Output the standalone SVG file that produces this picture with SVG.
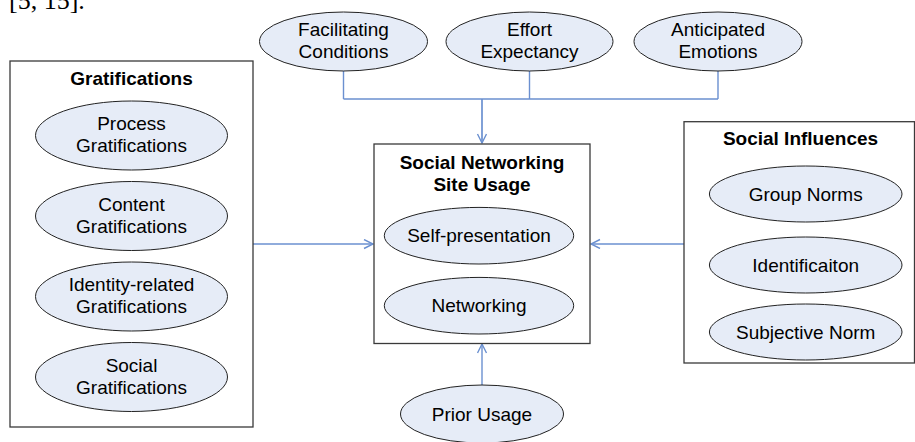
<svg xmlns="http://www.w3.org/2000/svg" width="915" height="442" viewBox="0 0 915 442">
<defs>
<style>
.box{fill:#ffffff;stroke:#3a3a3a;stroke-width:1.3}
.el{fill:#e6ecf7;stroke:#222222;stroke-width:1}
.t{font-family:"Liberation Sans",Arial,sans-serif;font-size:19px;fill:#000;text-anchor:middle}
.b{font-weight:bold}
.c{fill:none;stroke:#6b90d0;stroke-width:1.4}
</style>
<marker id="arr" markerWidth="12" markerHeight="12" refX="10" refY="5" orient="auto" markerUnits="userSpaceOnUse">
<path d="M1,0.5 L10,5 L1,9.5" fill="none" stroke="#6b90d0" stroke-width="1.4"/>
</marker>
</defs>
<rect width="915" height="442" fill="#ffffff"/>
<text x="9" y="9" style="font-family:'Liberation Serif','Times New Roman',serif;font-size:26px;fill:#000">[5, 15].</text>

<g id="connectors">
<path class="c" d="M343.5,71 V99 M529.5,71 V99 M718,71 V99 M343.5,99 H718"/>
<path class="c" d="M482,99 V143" marker-end="url(#arr)" style="stroke-width:1.7"/>
<path class="c" d="M253,244 H373" marker-end="url(#arr)"/>
<path class="c" d="M684,244 H591" marker-end="url(#arr)"/>
<path class="c" d="M482,385 V344" marker-end="url(#arr)"/>
</g>

<g id="facilitating">
<ellipse class="el" cx="343.5" cy="41.5" rx="84" ry="29.5"/>
<text class="t" x="343.5" y="36">Facilitating</text>
<text class="t" x="343.5" y="58">Conditions</text>
</g>
<g id="effort">
<ellipse class="el" cx="529.5" cy="41.5" rx="83.5" ry="29.5"/>
<text class="t" x="529.5" y="36">Effort</text>
<text class="t" x="529.5" y="58">Expectancy</text>
</g>
<g id="anticipated">
<ellipse class="el" cx="718" cy="41.5" rx="84" ry="29.5"/>
<text class="t" x="718" y="36">Anticipated</text>
<text class="t" x="718" y="58">Emotions</text>
</g>

<g id="gratifications">
<rect class="box" x="10" y="61" width="243" height="366"/>
<text class="t b" x="131.5" y="85">Gratifications</text>
<g id="process">
<ellipse class="el" cx="131.5" cy="135.5" rx="96" ry="34.5"/>
<text class="t" x="131.5" y="130">Process</text>
<text class="t" x="131.5" y="152">Gratifications</text>
</g>
<g id="content">
<ellipse class="el" cx="131.5" cy="216" rx="96" ry="34.5"/>
<text class="t" x="131.5" y="210.5">Content</text>
<text class="t" x="131.5" y="232.5">Gratifications</text>
</g>
<g id="identity">
<ellipse class="el" cx="131.5" cy="296.5" rx="96" ry="34.5"/>
<text class="t" x="131.5" y="291">Identity-related</text>
<text class="t" x="131.5" y="313">Gratifications</text>
</g>
<g id="social">
<ellipse class="el" cx="131.5" cy="377" rx="96" ry="34.5"/>
<text class="t" x="131.5" y="371.5">Social</text>
<text class="t" x="131.5" y="393.5">Gratifications</text>
</g>
</g>

<g id="sns-usage">
<rect class="box" x="374" y="144" width="216" height="199.5"/>
<text class="t b" x="482" y="169">Social Networking</text>
<text class="t b" x="482" y="191">Site Usage</text>
<g id="self-presentation">
<ellipse class="el" cx="479" cy="235.7" rx="94.7" ry="28.3"/>
<text class="t" x="479" y="242">Self-presentation</text>
</g>
<g id="networking">
<ellipse class="el" cx="479" cy="305.7" rx="94.7" ry="28.3"/>
<text class="t" x="479" y="312">Networking</text>
</g>
</g>

<g id="social-influences">
<rect class="box" x="684" y="121.7" width="230.5" height="241.3"/>
<text class="t b" x="800.5" y="145">Social Influences</text>
<g id="group-norms">
<ellipse class="el" cx="805.7" cy="194" rx="96.3" ry="28"/>
<text class="t" x="805.7" y="200.5">Group Norms</text>
</g>
<g id="identification">
<ellipse class="el" cx="805.7" cy="265" rx="96.3" ry="28"/>
<text class="t" x="805.7" y="271.5">Identificaiton</text>
</g>
<g id="subjective-norm">
<ellipse class="el" cx="805.7" cy="332" rx="96.3" ry="28"/>
<text class="t" x="805.7" y="338.5">Subjective Norm</text>
</g>
</g>

<g id="prior-usage">
<ellipse class="el" cx="482" cy="414" rx="81.5" ry="29"/>
<text class="t" x="482" y="421">Prior Usage</text>
</g>
</svg>
